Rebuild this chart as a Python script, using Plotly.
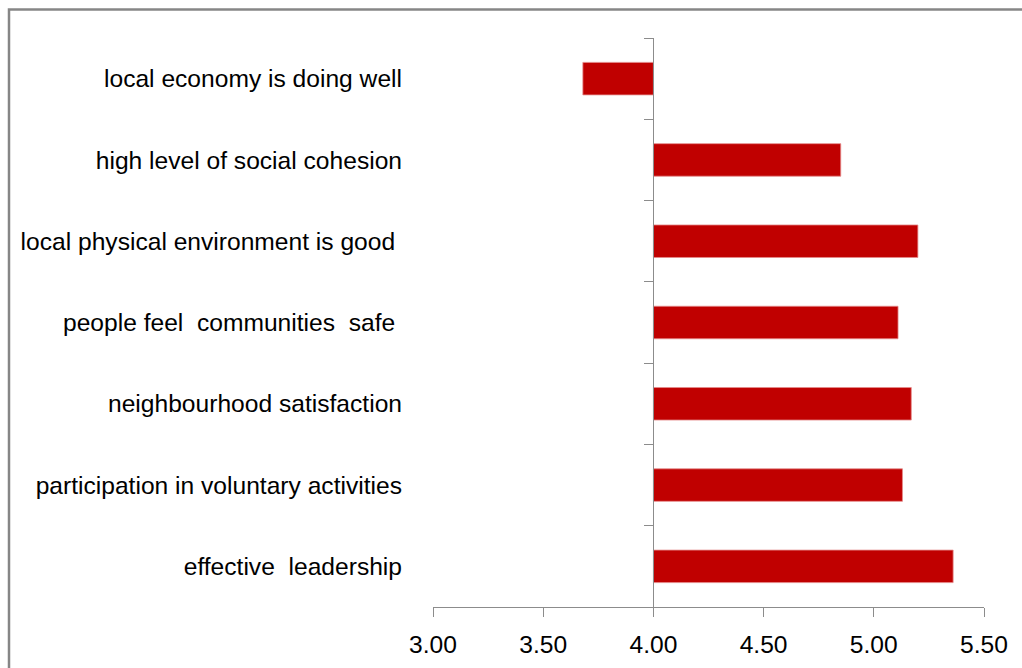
import numpy as np
import plotly.graph_objects as go

# Survey dimensions (top to bottom) and their mean scores
categories = [
    "local economy is doing well",
    "high level of social cohesion",
    "local physical environment is good ",
    "people feel\u00a0 communities\u00a0 safe ",
    "neighbourhood satisfaction",
    "participation in voluntary activities",
    "effective\u00a0 leadership",
]
scores = [3.68, 4.85, 5.20, 5.11, 5.17, 5.13, 5.36]
baseline = 4.0
x_ticks = [3.0, 3.5, 4.0, 4.5, 5.0, 5.5]
x_range = [3.0, 5.5]

W, H = 1022, 668
M_L, M_R, M_T, M_B = 433, 38, 38, 61
plot_w = W - M_L - M_R
plot_h = H - M_T - M_B

AXIS_GREY = "#8c8c8c"
FONT = "Liberation Sans"
FONT_SIZE = 24.6

fig = go.Figure()

# Bars grow from the 4.00 baseline
fig.add_trace(go.Bar(
    y=categories,
    x=np.array(scores) - baseline,
    base=baseline,
    orientation="h",
    width=0.4,
    marker=dict(color="#C00000", line=dict(color="#E58A8A", width=0.8)),
    hoverinfo="skip",
    showlegend=False,
))

# Invisible helper that carries the category axis drawn at the baseline
fig.add_trace(go.Scatter(
    y=categories,
    x=[baseline] * len(categories),
    yaxis="y2",
    mode="markers",
    marker=dict(opacity=0),
    hoverinfo="skip",
    showlegend=False,
))

# Chart-area frame
def px_to_paper_x(px):
    return (px - M_L) / plot_w

def px_to_paper_y(py):
    return (M_T + plot_h - py) / plot_h

fig.add_shape(
    type="rect", xref="paper", yref="paper",
    x0=px_to_paper_x(9), x1=px_to_paper_x(1040),
    y0=px_to_paper_y(690), y1=px_to_paper_y(9.5),
    line=dict(color="#868686", width=2.5),
    fillcolor="rgba(0,0,0,0)",
    layer="below",
)

fig.update_layout(
    width=W, height=H,
    margin=dict(l=M_L, r=M_R, t=M_T, b=M_B, pad=0, autoexpand=False),
    paper_bgcolor="white",
    plot_bgcolor="white",
    font=dict(family=FONT, size=FONT_SIZE, color="#000000"),
    bargap=0.6,
    xaxis=dict(
        range=x_range,
        tickvals=x_ticks,
        ticktext=[f"{v:.2f}" for v in x_ticks],
        ticks="outside", ticklen=9, tickwidth=1, tickcolor=AXIS_GREY,
        ticklabelstandoff=6,
        showline=True, linecolor=AXIS_GREY, linewidth=1,
        showgrid=False, zeroline=False,
        automargin=False,
        tickfont=dict(family=FONT, size=FONT_SIZE, color="#000000"),
        fixedrange=True,
    ),
    yaxis=dict(
        type="category",
        categoryorder="array", categoryarray=categories,
        autorange="reversed",
        showline=False, showgrid=False, zeroline=False,
        ticks="",
        ticklabelstandoff=30,
        automargin=False,
        tickfont=dict(family=FONT, size=FONT_SIZE, color="#000000"),
        fixedrange=True,
    ),
    yaxis2=dict(
        type="category",
        categoryorder="array", categoryarray=categories,
        matches="y",
        overlaying="y",
        anchor="free",
        position=(baseline - x_range[0]) / (x_range[1] - x_range[0]),
        side="left",
        showticklabels=False,
        ticks="outside", ticklen=9, tickwidth=1, tickcolor=AXIS_GREY,
        tickson="boundaries",
        showline=True, linecolor=AXIS_GREY, linewidth=1,
        showgrid=False, zeroline=False,
        automargin=False,
        fixedrange=True,
    ),
)

fig.write_html("out.html")
